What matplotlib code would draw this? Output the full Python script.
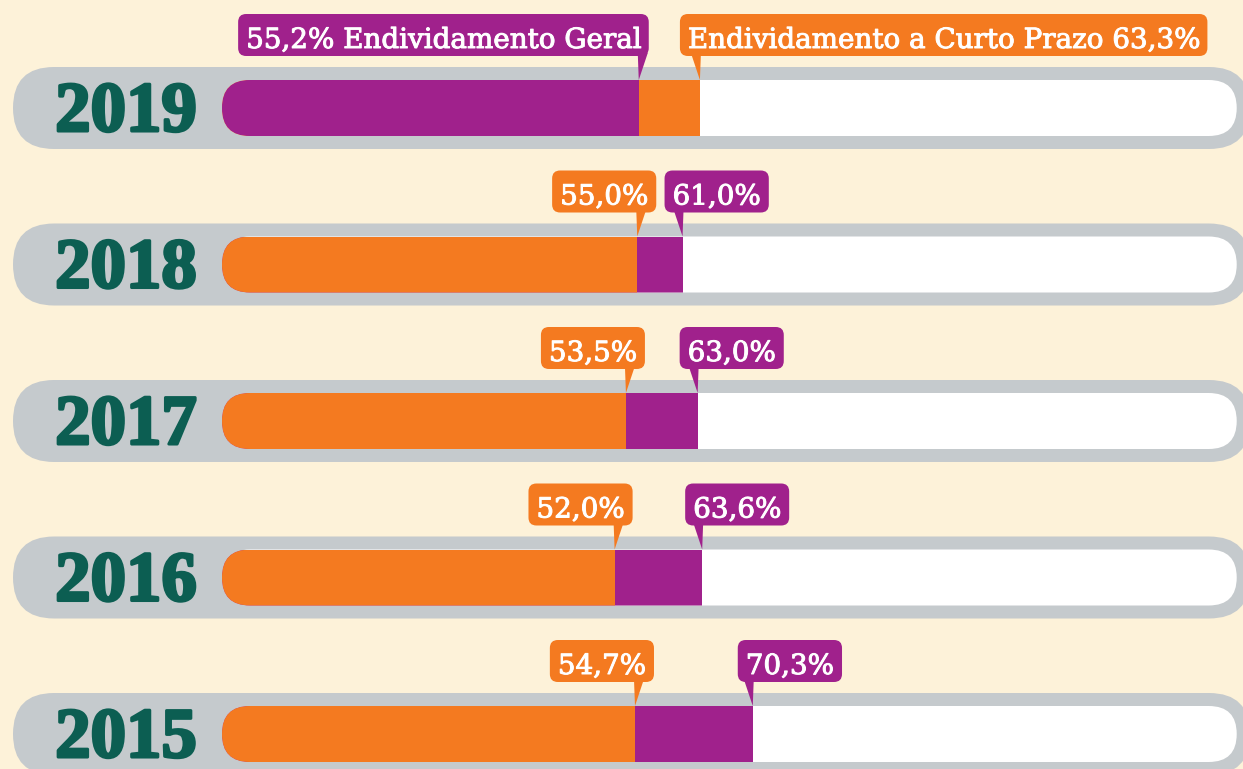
import matplotlib
matplotlib.use('Agg')
import matplotlib.pyplot as plt
import matplotlib.patheffects as pe
from matplotlib.patches import FancyBboxPatch, Polygon

# data
years = ['2019', '2018', '2017', '2016', '2015']
first_vals = [55.2, 55.0, 53.5, 52.0, 54.7]
second_vals = [63.3, 61.0, 63.0, 63.6, 70.3]
first_labels = ['55,2% Endividamento Geral', '55,0%', '53,5%', '52,0%', '54,7%']
second_labels = ['Endividamento a Curto Prazo 63,3%', '61,0%', '63,0%', '63,6%', '70,3%']

# colours
bg = '#FDF2D9'
grey = '#C5CACD'
purple = '#A0218C'
orange = '#F47A20'
green = '#0C5E52'
first_colors = [purple, orange, orange, orange, orange]
second_colors = [orange, purple, purple, purple, purple]

# layout (pixels per unit)
PX = 7.55    # px per percent
PY = 156.5   # px per row
asp = PX / PY
def dx(p): return p / PX
def dy(p): return p / PY

left_off = [10, 19, 19, 18, 19]     # box right edge past the tip
right_off = [20, 18, 18, 17, 15]    # box left edge before the tip
track_end = 134.4

fig = plt.figure(figsize=(12.43, 7.69), dpi=100)
fig.patch.set_facecolor(bg)
ax = fig.add_axes([0, 0, 1, 1])
ax.set_facecolor(bg)
ax.set_xlim(-222 / PX, (1243 - 222) / PX)
ax.set_ylim((769 - 108) / PY, -108 / PY)
ax.axis('off')

rows = list(range(len(years)))
pills = []
for i in rows:
    track = FancyBboxPatch((dx(13 - 222), i - dy(41)), dx(1250 - 13), dy(82),
                           boxstyle='round,pad=0,rounding_size=%f' % dx(41),
                           mutation_aspect=asp, fc=grey, ec='none', zorder=1)
    ax.add_patch(track)
    pill = FancyBboxPatch((0, i - dy(28)), track_end, dy(56),
                          boxstyle='round,pad=0,rounding_size=%f' % dx(28),
                          mutation_aspect=asp, fc='white', ec='none', zorder=2)
    ax.add_patch(pill)
    pills.append(pill)
    ax.text(dx(126 - 222), i + dy(23), years[i], ha='center', va='baseline',
            fontsize=51, fontweight='bold', family='Liberation Serif', color=green, zorder=3,
            path_effects=[pe.withStroke(linewidth=2.2, foreground=green)])

b2 = ax.barh(rows, second_vals, height=dy(56), color=second_colors, zorder=3)
b1 = ax.barh(rows, first_vals, height=dy(56), color=first_colors, zorder=4)
for bar, pill in zip(list(b2) + list(b1), pills + pills):
    bar.set_clip_path(pill)

# callouts
renderer = fig.canvas.get_renderer()
tfont = dict(fontsize=20, family='DejaVu Serif', color='white', zorder=7,
             path_effects=[pe.withStroke(linewidth=0.7, foreground='white')])
for i in rows:
    tip_y = i - dy(28)
    bb = i - dy(52)
    top = i - dy(94)
    # left callout
    tip = first_vals[i]
    right = tip + dx(left_off[i])
    t = ax.text(right - dx(8), i - dy(60), first_labels[i], ha='right', va='baseline', **tfont)
    w = t.get_window_extent(renderer).width
    ax.add_patch(FancyBboxPatch((right - dx(w + 16), top), dx(w + 16), dy(42),
                                boxstyle='round,pad=0,rounding_size=%f' % dx(8),
                                mutation_aspect=asp, fc=first_colors[i], ec='none', zorder=6))
    ax.add_patch(Polygon([(tip - dx(1), bb - dy(3)), (tip + dx(9), bb - dy(3)), (tip, tip_y)],
                         closed=True, fc=first_colors[i], ec='none', zorder=6))
    # right callout
    tip = second_vals[i]
    left = tip - dx(right_off[i])
    t = ax.text(left + dx(8), i - dy(60), second_labels[i], ha='left', va='baseline', **tfont)
    w = t.get_window_extent(renderer).width
    ax.add_patch(FancyBboxPatch((left, top), dx(w + 16), dy(42),
                                boxstyle='round,pad=0,rounding_size=%f' % dx(8),
                                mutation_aspect=asp, fc=second_colors[i], ec='none', zorder=6))
    ax.add_patch(Polygon([(tip - dx(9), bb - dy(3)), (tip + dx(1), bb - dy(3)), (tip, tip_y)],
                         closed=True, fc=second_colors[i], ec='none', zorder=6))

fig.savefig('out.png', dpi=100, facecolor=bg)
